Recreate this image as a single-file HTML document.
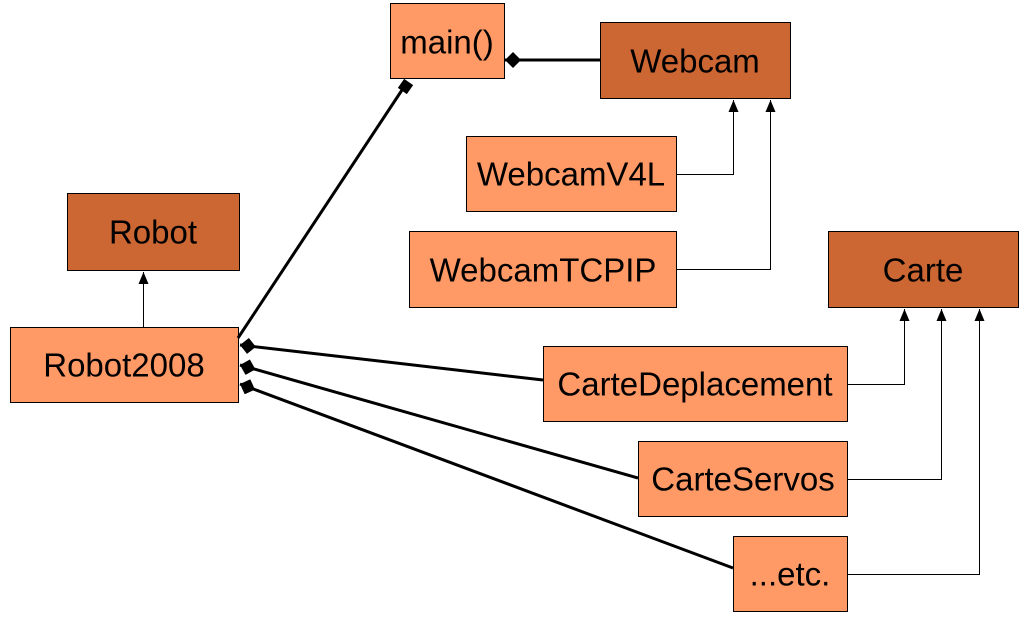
<!DOCTYPE html>
<html><head><style>body{margin:0;background:#fff}svg{display:block}text{font-family:"Liberation Sans",sans-serif;font-size:33px;fill:#000;text-anchor:middle;dominant-baseline:central}</style></head><body>
<svg width="1026" height="622" viewBox="0 0 1026 622">
<defs>
<marker id="d" viewBox="0 0 16 16" refX="0" refY="8" markerWidth="16" markerHeight="16" markerUnits="userSpaceOnUse" orient="auto"><polygon points="0,8 8,0 16,8 8,16" fill="#000"/></marker>
<marker id="a" viewBox="0 0 10 12" refX="5" refY="0" markerWidth="10" markerHeight="12" markerUnits="userSpaceOnUse" orient="0"><polygon points="5,0 0,12 10,12" fill="#000"/></marker>
</defs>
<g stroke="#000" stroke-width="1">
<rect x="390.5" y="3.5" width="114" height="75" fill="#FF9966"/>
<rect x="600.5" y="22.5" width="190" height="76" fill="#CC6633"/>
<rect x="466.5" y="136.5" width="210" height="75" fill="#FF9966"/>
<rect x="409.5" y="231.5" width="267" height="76" fill="#FF9966"/>
<rect x="828.5" y="231.5" width="190" height="76" fill="#CC6633"/>
<rect x="67.5" y="193.5" width="172" height="77" fill="#CC6633"/>
<rect x="10.5" y="327.5" width="228" height="75" fill="#FF9966"/>
<rect x="543.5" y="346.5" width="304" height="75" fill="#FF9966"/>
<rect x="638.5" y="441.5" width="209" height="75" fill="#FF9966"/>
<rect x="733.5" y="536.5" width="114" height="75" fill="#FF9966"/>
</g>
<g fill="none" stroke="#000" stroke-width="1">
<polyline points="143.5,327 143.5,272" marker-end="url(#a)"/>
<polyline points="677,174.5 733.5,174.5 733.5,100" marker-end="url(#a)"/>
<polyline points="677,269.5 770.5,269.5 770.5,100" marker-end="url(#a)"/>
<polyline points="848,384.5 904.5,384.5 904.5,309" marker-end="url(#a)"/>
<polyline points="848,479.5 941.5,479.5 941.5,309" marker-end="url(#a)"/>
<polyline points="848,574.5 979.5,574.5 979.5,309" marker-end="url(#a)"/>
</g>
<g fill="none" stroke="#000" stroke-width="3">
<line x1="505" y1="60" x2="600" y2="60" marker-start="url(#d)"/>
<line x1="240" y1="345" x2="543" y2="380" marker-start="url(#d)"/>
<line x1="240" y1="365" x2="638" y2="478" marker-start="url(#d)"/>
<line x1="240" y1="384" x2="733" y2="568" marker-start="url(#d)"/>
<line x1="238" y1="338" x2="402" y2="90"/>
</g>
<rect x="400" y="81" width="11" height="11" fill="#000" transform="rotate(35 405.5 86.5)"/>
<text x="447" y="42">main()</text>
<text x="695" y="61">Webcam</text>
<text x="571" y="174">WebcamV4L</text>
<text x="543" y="270">WebcamTCPIP</text>
<text x="923" y="270">Carte</text>
<text x="153" y="232">Robot</text>
<text x="124" y="365">Robot2008</text>
<text x="695" y="384">CarteDeplacement</text>
<text x="743" y="479">CarteServos</text>
<text x="790" y="574">...etc.</text>
</svg>
</body></html>
